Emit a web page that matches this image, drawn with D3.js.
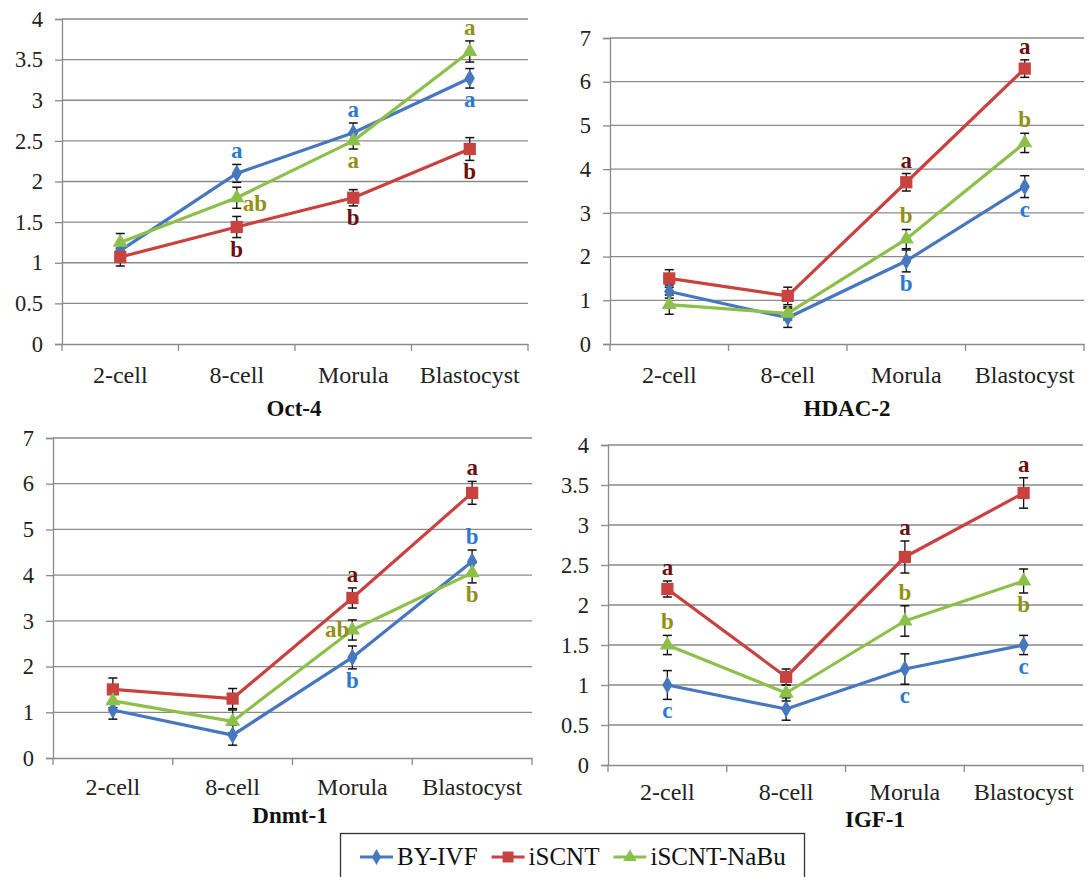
<!DOCTYPE html>
<html><head><meta charset="utf-8">
<script src="https://cdn.jsdelivr.net/npm/d3@7/dist/d3.min.js"></script>
<style>
html,body{margin:0;padding:0;background:#fff;}
svg{display:block;}
text{font-family:"Liberation Serif","Times New Roman",serif;}
</style></head>
<body>
<svg id="chart" width="1088" height="877"></svg>
<script>
// ---------------- DATA ----------------
const categories = ["2-cell", "8-cell", "Morula", "Blastocyst"];
const seriesNames = ["BY-IVF", "iSCNT", "iSCNT-NaBu"];

// Oct-4
const oct4Ticks = [0, 0.5, 1, 1.5, 2, 2.5, 3, 3.5, 4];
const oct4_BYIVF = [1.15, 2.1, 2.6, 3.27];
const oct4_BYIVF_err = [0.08, 0.11, 0.12, 0.12];
const oct4_iSCNT = [1.07, 1.44, 1.8, 2.4];
const oct4_iSCNT_err = [0.11, 0.13, 0.1, 0.14];
const oct4_NaBu = [1.25, 1.8, 2.5, 3.6];
const oct4_NaBu_err = [0.11, 0.13, 0.1, 0.13];
const oct4Letters = [
  [0, 1, "a", "above"], [2, 1, "ab", "right"], [1, 1, "b", "below"],
  [0, 2, "a", "above"], [2, 2, "a", "below"], [1, 2, "b", "below"],
  [2, 3, "a", "above"], [0, 3, "a", "below"], [1, 3, "b", "below"]
];

// HDAC-2
const hdacTicks = [0, 1, 2, 3, 4, 5, 6, 7];
const hdac_BYIVF = [1.2, 0.6, 1.9, 3.6];
const hdac_BYIVF_err = [0.15, 0.22, 0.25, 0.25];
const hdac_iSCNT = [1.5, 1.1, 3.7, 6.3];
const hdac_iSCNT_err = [0.2, 0.2, 0.2, 0.2];
const hdac_NaBu = [0.9, 0.7, 2.4, 4.6];
const hdac_NaBu_err = [0.22, 0.15, 0.22, 0.22];
const hdacLetters = [
  [1, 2, "a", "above"], [2, 2, "b", "above"], [0, 2, "b", "below"],
  [1, 3, "a", "above"], [2, 3, "b", "above"], [0, 3, "c", "below"]
];

// Dnmt-1
const dnmtTicks = [0, 1, 2, 3, 4, 5, 6, 7];
const dnmt_BYIVF = [1.05, 0.5, 2.2, 4.3];
const dnmt_BYIVF_err = [0.2, 0.22, 0.25, 0.25];
const dnmt_iSCNT = [1.5, 1.3, 3.5, 5.8];
const dnmt_iSCNT_err = [0.25, 0.22, 0.22, 0.25];
const dnmt_NaBu = [1.25, 0.8, 2.8, 4.05];
const dnmt_NaBu_err = [0.15, 0.25, 0.22, 0.22];
const dnmtLetters = [
  [1, 2, "a", "above"], [2, 2, "ab", "left"], [0, 2, "b", "below"],
  [1, 3, "a", "above"], [0, 3, "b", "above"], [2, 3, "b", "below"]
];

// IGF-1
const igfTicks = [0, 0.5, 1, 1.5, 2, 2.5, 3, 3.5, 4];
const igf_BYIVF = [1.0, 0.7, 1.2, 1.5];
const igf_BYIVF_err = [0.18, 0.14, 0.19, 0.12];
const igf_iSCNT = [2.2, 1.1, 2.6, 3.4];
const igf_iSCNT_err = [0.1, 0.1, 0.2, 0.19];
const igf_NaBu = [1.5, 0.9, 1.8, 2.3];
const igf_NaBu_err = [0.12, 0.1, 0.19, 0.15];
const igfLetters = [
  [1, 0, "a", "above"], [2, 0, "b", "above"], [0, 0, "c", "below"],
  [1, 2, "a", "above"], [2, 2, "b", "above"], [0, 2, "c", "below"],
  [1, 3, "a", "above"], [2, 3, "b", "below"], [0, 3, "c", "below"]
];

// ---------------- STYLE / LAYOUT ----------------
const lineColors = ["#4677BF", "#C8423F", "#8DC04B"];
const letterColors = ["#2B7AD0", "#6A1010", "#919116"];
const markerTypes = [d3.symbolDiamond, d3.symbolSquare, d3.symbolTriangle];
const markerSizes = [90, 150, 100];
const gridColor = "#8a8a8a";
const FONT = "\"Liberation Serif\",\"Times New Roman\",serif";

const panels = [
  { title: "Oct-4", ticks: oct4Ticks, series: [oct4_BYIVF, oct4_iSCNT, oct4_NaBu],
    errs: [oct4_BYIVF_err, oct4_iSCNT_err, oct4_NaBu_err], letters: oct4Letters,
    left: 62, right: 528, top: 19, bottom: 344, labY: 383, titleY: 416, titleX: 294 },
  { title: "HDAC-2", ticks: hdacTicks, series: [hdac_BYIVF, hdac_iSCNT, hdac_NaBu],
    errs: [hdac_BYIVF_err, hdac_iSCNT_err, hdac_NaBu_err], letters: hdacLetters,
    left: 610, right: 1084, top: 38, bottom: 344, labY: 383, titleY: 416, titleX: 847 },
  { title: "Dnmt-1", ticks: dnmtTicks, series: [dnmt_BYIVF, dnmt_iSCNT, dnmt_NaBu],
    errs: [dnmt_BYIVF_err, dnmt_iSCNT_err, dnmt_NaBu_err], letters: dnmtLetters,
    left: 53, right: 532, top: 438, bottom: 758, labY: 795, titleY: 823, titleX: 290 },
  { title: "IGF-1", ticks: igfTicks, series: [igf_BYIVF, igf_iSCNT, igf_NaBu],
    errs: [igf_BYIVF_err, igf_iSCNT_err, igf_NaBu_err], letters: igfLetters,
    left: 608, right: 1083, top: 445, bottom: 765, labY: 800, titleY: 827, titleX: 875 }
];

const svg = d3.select("#chart");

panels.forEach(p => {
  const g = svg.append("g");
  const x = d3.scaleBand().domain(categories).range([p.left, p.right]);
  const yMax = d3.max(p.ticks);
  const y = d3.scaleLinear().domain([0, yMax]).range([p.bottom, p.top]);
  const cx = c => x(c) + x.bandwidth() / 2;

  // gridlines
  g.append("g").selectAll("line").data(p.ticks.filter(t => t > 0)).join("line")
    .attr("x1", p.left).attr("x2", p.right)
    .attr("y1", d => y(d)).attr("y2", d => y(d))
    .attr("stroke", gridColor).attr("stroke-width", 1.3);

  // y axis
  const ya = g.append("g").attr("transform", `translate(${p.left},0)`)
    .call(d3.axisLeft(y).tickValues(p.ticks).tickSize(7).tickPadding(12).tickFormat(d3.format("")));
  ya.attr("font-family", null);
  ya.select(".domain").attr("stroke", gridColor).attr("stroke-width", 1.3);
  ya.selectAll(".tick line").attr("stroke", gridColor).attr("stroke-width", 1.3);
  ya.selectAll(".tick text").attr("font-family", FONT).attr("font-size", 22.5).attr("fill", "#222");

  // x axis
  const xa = g.append("g").attr("transform", `translate(0,${p.bottom})`)
    .call(d3.axisBottom(x).tickSize(0).tickPadding(0));
  xa.attr("font-family", null);
  xa.select(".domain").attr("stroke", gridColor).attr("stroke-width", 1.3);
  xa.selectAll(".tick text").attr("font-family", FONT).attr("font-size", 24).attr("fill", "#222")
    .attr("dy", 0).attr("y", p.labY - p.bottom);
  // boundary tick marks
  const edges = categories.map(c => x(c)).concat([p.right]);
  g.append("g").selectAll("line").data(edges).join("line")
    .attr("x1", d => d).attr("x2", d => d)
    .attr("y1", p.bottom).attr("y2", p.bottom + 7)
    .attr("stroke", gridColor).attr("stroke-width", 1.3);

  // title
  g.append("text").attr("x", p.titleX).attr("y", p.titleY)
    .attr("text-anchor", "middle").attr("font-family", FONT)
    .attr("font-weight", "bold").attr("font-size", 23).attr("fill", "#111")
    .text(p.title);

  const line = d3.line().x((d, i) => cx(categories[i])).y(d => y(d));

  // error bars
  p.series.forEach((vals, s) => {
    const eg = g.append("g");
    vals.forEach((v, i) => {
      const e = p.errs[s][i];
      const xx = cx(categories[i]);
      eg.append("line").attr("x1", xx).attr("x2", xx).attr("y1", y(v - e)).attr("y2", y(v + e))
        .attr("stroke", "#111").attr("stroke-width", 1.3);
      [v - e, v + e].forEach(w => {
        eg.append("line").attr("x1", xx - 4.5).attr("x2", xx + 4.5).attr("y1", y(w)).attr("y2", y(w))
          .attr("stroke", "#111").attr("stroke-width", 1.5);
      });
    });
  });

  // lines + markers
  p.series.forEach((vals, s) => {
    g.append("path").datum(vals).attr("d", line)
      .attr("fill", "none").attr("stroke", lineColors[s]).attr("stroke-width", 3.2)
      .attr("stroke-linejoin", "round");
    g.append("g").selectAll("path").data(vals).join("path")
      .attr("transform", (d, i) => `translate(${cx(categories[i])},${y(d)})`)
      .attr("d", d3.symbol().type(markerTypes[s]).size(markerSizes[s]))
      .attr("fill", lineColors[s]);
  });

  // significance letters
  p.letters.forEach(([s, c, t, pos]) => {
    const v = p.series[s][c], e = p.errs[s][c];
    const xx = cx(categories[c]);
    let tx = xx, ty, anchor = "middle";
    if (pos === "above") ty = y(v + e) - 6;
    else if (pos === "below") ty = y(v - e) + 19;
    else if (pos === "right") { tx = xx + 6; ty = y(v) + 13; anchor = "start"; }
    else { tx = xx - 3; ty = y(v) + 7; anchor = "end"; }
    g.append("text").attr("x", tx).attr("y", ty).attr("text-anchor", anchor)
      .attr("font-family", FONT).attr("font-weight", "bold").attr("font-size", 23)
      .attr("fill", letterColors[s]).text(t);
  });
});

// ---------------- LEGEND ----------------
const lg = svg.append("g");
lg.append("rect").attr("x", 340.5).attr("y", 833.5).attr("width", 464).attr("height", 60)
  .attr("fill", "#fff").attr("stroke", "#333").attr("stroke-width", 1.3);
let lx = 360;
seriesNames.forEach((name, s) => {
  lg.append("line").attr("x1", lx).attr("x2", lx + 33).attr("y1", 857).attr("y2", 857)
    .attr("stroke", lineColors[s]).attr("stroke-width", 3.2);
  lg.append("path").attr("transform", `translate(${lx + 16.5},857)`)
    .attr("d", d3.symbol().type(markerTypes[s]).size(markerSizes[s] * 0.8))
    .attr("fill", lineColors[s]);
  const t = lg.append("text").attr("x", lx + 37).attr("y", 865)
    .attr("font-family", FONT).attr("font-size", 25).attr("fill", "#111").text(name);
  lx = lx + 37 + t.node().getComputedTextLength() + 14;
});
</script>
</body></html>
